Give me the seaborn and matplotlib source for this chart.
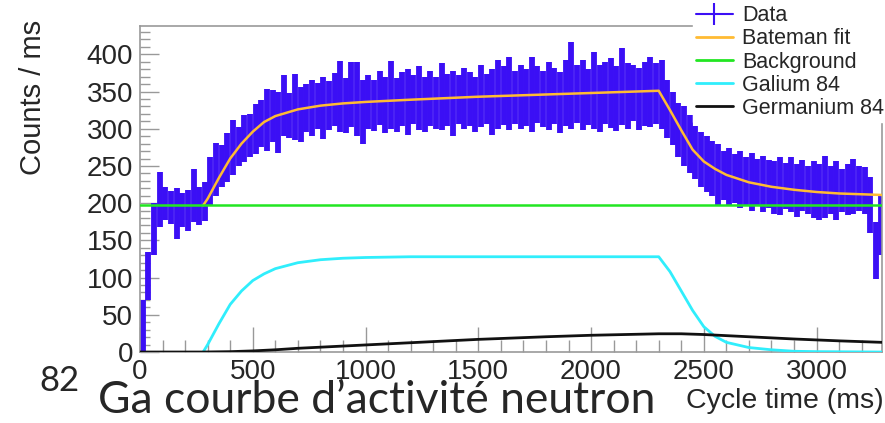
import numpy as np
import pandas as pd
import matplotlib
matplotlib.use('Agg')
import matplotlib.pyplot as plt
import seaborn as sb
from matplotlib.lines import Line2D
from matplotlib.ticker import MultipleLocator

# Data histogram, 25 ms bins: lower / upper edge of the blue band
BIN_WIDTH = 25
data_low = [0, 70, 130, 168, 178, 172, 152, 168, 163, 175, 170, 176,
            196, 210, 222, 228, 238, 250, 255, 262, 266, 275,
            270, 282, 268, 290, 288, 285, 282, 296, 290, 300,
            286, 298, 304, 296, 294, 302, 290, 280,
            300, 297, 305, 294, 300, 296, 303, 292, 306, 298,
            295, 304, 300, 298, 303, 290, 306, 299, 304, 296,
            302, 306, 291, 300, 305, 298, 307, 300, 303, 296,
            308, 302, 298, 306, 294, 304, 300, 308, 298, 305,
            300, 296, 306, 301, 297, 305, 300, 310, 298, 304,
            302, 306, 300,
            288, 278, 262, 250, 240, 232, 222, 215, 210, 198,
            204, 196, 200, 194, 198, 190, 196, 188, 194, 186,
            184, 192, 188, 182, 190, 186, 180, 177, 180, 186,
            177, 188, 184, 186, 190, 186, 160, 98, 130]
data_high = [70, 135, 200, 242, 222, 216, 220, 213, 218, 246, 222, 228,
             262, 281, 278, 294, 312, 302, 318, 320, 333, 338,
             354, 352, 350, 372, 348, 374, 356, 360, 366, 362,
             370, 364, 375, 391, 368, 389, 389, 366,
             372, 365, 378, 370, 391, 368, 376, 380, 372, 384,
             369, 377, 370, 388, 374, 378, 372, 382, 376, 370,
             385, 374, 380, 393, 384, 396, 378, 386, 380, 396,
             384, 378, 390, 382, 376, 392, 416, 386, 392, 380,
             403, 386, 390, 395, 384, 408, 388, 386, 382, 390,
             396, 388, 392,
             366, 350, 335, 330, 318, 304, 296, 290, 284, 280,
             270, 274, 266, 270, 262, 268, 260, 264, 258, 256,
             262, 254, 262, 252, 258, 250, 256, 252, 264, 250,
             256, 246, 252, 260, 250, 248, 235, 175, 212]
assert len(data_low) == len(data_high)
data_t = BIN_WIDTH / 2 + BIN_WIDTH * np.arange(len(data_low))

# Fit curves (values read at knots)
fit_t = [280, 300, 325, 350, 400, 450, 500, 550, 600, 700, 800, 900, 1000, 1200, 1500,
         1800, 2000, 2300, 2350, 2400, 2450, 2500, 2550, 2600, 2700, 2800, 2900, 3000, 3100, 3290]
fit_v = [197, 206, 220, 234, 260, 280, 296, 309, 317, 326, 331, 334, 336, 339, 343,
         346, 348, 351, 325, 298, 272, 256, 246, 238, 228, 222, 218, 215, 213, 211]

bg_t = [0, 3290]
bg_v = [197, 197]

ga_t = [280, 300, 350, 400, 450, 500, 550, 600, 700, 800, 900, 1000, 1200, 2300,
        2350, 2400, 2450, 2500, 2550, 2600, 2700, 2800, 2900, 3000, 3290]
ga_v = [0, 10, 38, 64, 82, 96, 105, 112, 120, 124, 126, 127, 128, 128,
        108, 82, 56, 34, 21, 13, 6, 3, 1, 0.5, 0]

ge_t = [0, 280, 400, 500, 600, 700, 800, 1000, 1200, 1500, 1800, 2000, 2300, 2400,
        2500, 2700, 2900, 3100, 3290]
ge_v = [0, 0, 0.5, 1.5, 3, 5, 6.5, 9.5, 12.5, 17, 20.5, 22.5, 24.5, 24.5,
        23.5, 20.5, 17.5, 15, 13]

labels = ['Data', 'Bateman fit', 'Background', 'Galium 84', 'Germanium 84']
BLUE = '#3b0ff5'
ORANGE = '#ffbb33'
GREEN = '#22e622'
CYAN = '#30eefc'
BLACK = '#111111'

sb.set_theme(style='ticks')
plt.rcParams['font.family'] = ['Liberation Sans', 'DejaVu Sans']

fig = plt.figure(figsize=(8.85, 4.23), dpi=100)
ax = fig.add_axes([0.1582, 0.1678, 0.9966 - 0.1582, 0.9385 - 0.1678])

ax.vlines(data_t, data_low, data_high, color=BLUE, lw=4.2, zorder=2)

curves = [(fit_t, fit_v, ORANGE, 1.8), (bg_t, bg_v, GREEN, 1.8),
          (ga_t, ga_v, CYAN, 2.0), (ge_t, ge_v, BLACK, 2.0)]
for t, v, c, w in curves:
    sb.lineplot(x=t, y=v, ax=ax, color=c, lw=w, zorder=3)

ax.set_xlim(0, 3290)
ax.set_ylim(0, 438)
ax.xaxis.set_major_locator(MultipleLocator(500))
ax.xaxis.set_minor_locator(MultipleLocator(100))
ax.yaxis.set_major_locator(MultipleLocator(50))
ax.yaxis.set_minor_locator(MultipleLocator(10))

frame = '#999999'
for s in ax.spines.values():
    s.set_color(frame)
    s.set_linewidth(1.2)
ax.tick_params(axis='x', which='major', direction='in', length=18, width=1, color=frame,
               labelsize=20, pad=5)
ax.tick_params(axis='x', which='minor', direction='in', length=8.5, width=1, color=frame)
ax.tick_params(axis='y', which='major', direction='in', length=14, width=1, color=frame,
               labelsize=20, pad=5)
ax.tick_params(axis='y', which='minor', direction='in', length=7, width=1, color=frame)

fig.text(0.037, 0.77, 'Counts / ms', rotation=90, fontsize=21, ha='center', va='center')
fig.text(0.998, 0.036, 'Cycle time (ms)', fontsize=20.5, ha='right', va='baseline')

fig.text(0.044, 0.076, '82', fontsize=25, family=['Lato', 'DejaVu Sans'], va='baseline')
fig.text(0.111, 0.024, 'Ga courbe d\u2019activit\u00e9 neutron', fontsize=32,
         family=['Lato', 'DejaVu Sans'], va='baseline')

handles = [Line2D([0], [0], color=BLUE, lw=1.5, marker='|', markersize=16, mew=1.5),
           Line2D([0], [0], color=ORANGE, lw=2),
           Line2D([0], [0], color=GREEN, lw=2),
           Line2D([0], [0], color=CYAN, lw=2),
           Line2D([0], [0], color=BLACK, lw=2)]
leg = fig.legend(handles, labels, loc='upper left', bbox_to_anchor=(0.783, 0.995),
                 fontsize=15.5, frameon=True, fancybox=False, edgecolor='white',
                 facecolor='white', framealpha=1, handlelength=1.7, handletextpad=0.45,
                 labelspacing=0.1, borderpad=0.15, borderaxespad=0)

fig.savefig('out.png', dpi=100)
